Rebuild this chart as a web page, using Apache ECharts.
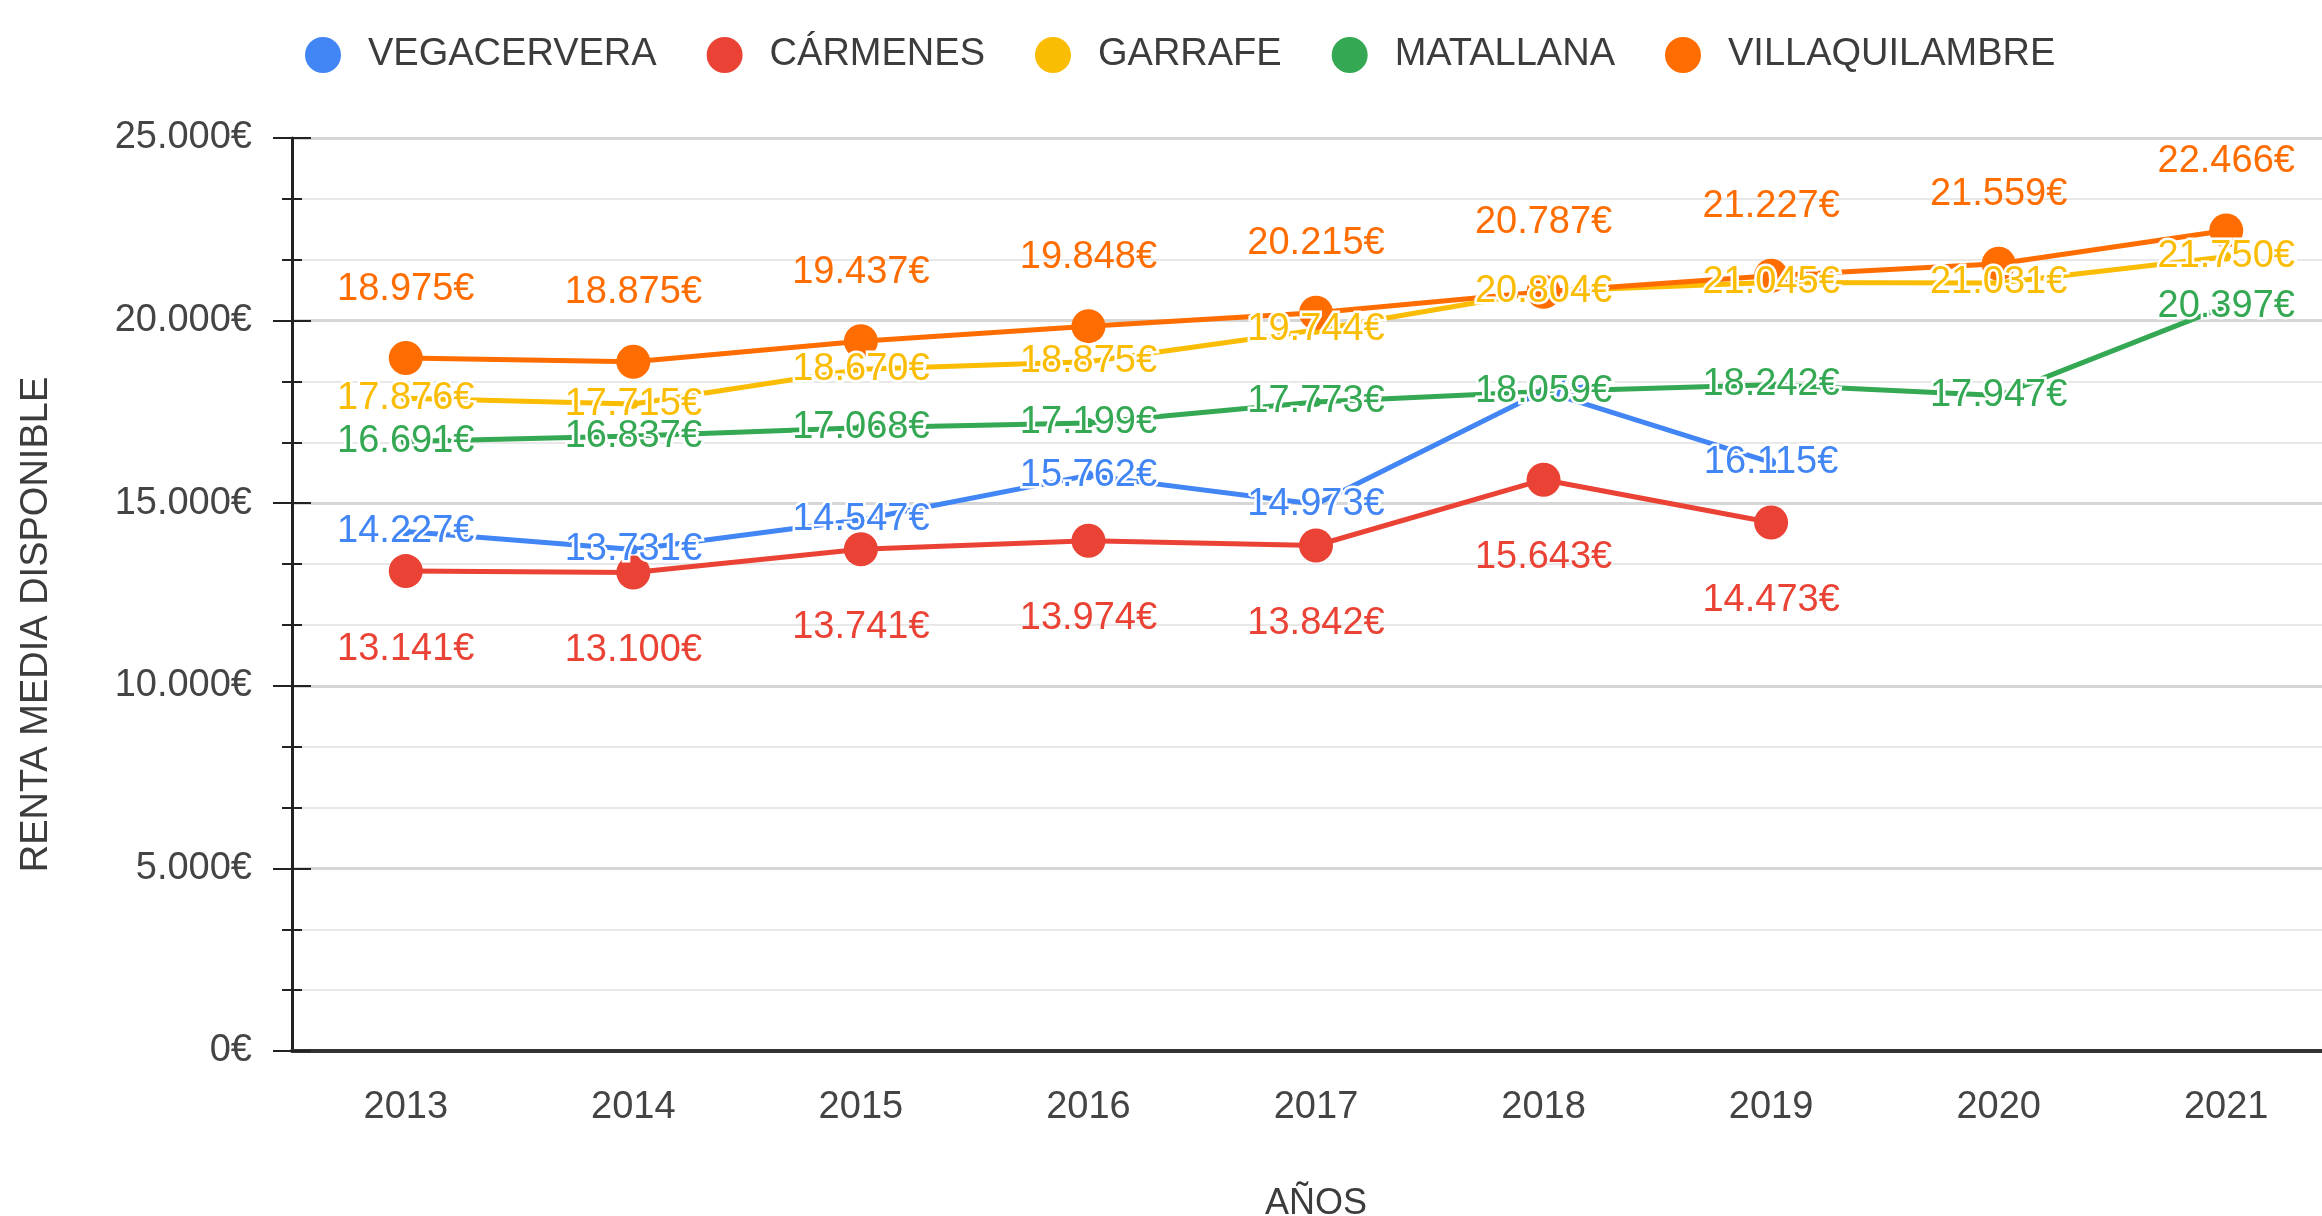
<!DOCTYPE html>
<html>
<head>
<meta charset="utf-8">
<script src="https://cdn.jsdelivr.net/npm/echarts@6/dist/echarts.min.js"></script>
<style>
  html, body { margin: 0; padding: 0; background: #fff; }
  #chart { width: 2322px; height: 1216px; }
</style>
</head>
<body>
<div id="chart"></div>
<script>
    var years = ['2013', '2014', '2015', '2016', '2017', '2018', '2019', '2020', '2021'];
    var vegacervera = [14227, 13731, 14547, 15762, 14973, 18073, 16115, null, null];
    var carmenes = [13141, 13100, 13741, 13974, 13842, 15643, 14473, null, null];
    var garrafe = [17876, 17715, 18670, 18875, 19744, 20804, 21045, 21031, 21750];
    var matallana = [16691, 16837, 17068, 17199, 17773, 18059, 18242, 17947, 20397];
    var villaquilambre = [18975, 18875, 19437, 19848, 20215, 20787, 21227, 21559, 22466];
    var yTicks = [0, 5000, 10000, 15000, 20000, 25000];

    var FONT = 'Liberation Sans';
    var chart = echarts.init(document.getElementById('chart'));

    // 18975 -> "18.975€"
    function euro(v) {
        return String(v).replace(/\B(?=(\d{3})+(?!\d))/g, '.') + '€';
    }

    function makeSeries(name, data, color, big, labelPos, dist) {
        return {
            name: name,
            type: 'line',
            data: data,
            symbol: 'circle',
            symbolSize: big ? 34 : 10,
            showSymbol: true,
            lineStyle: { width: 5, color: color },
            itemStyle: { color: color },
            label: {
                show: true,
                position: labelPos,
                distance: dist,
                color: color,
                fontFamily: FONT,
                fontSize: 38,
                textBorderColor: '#fff',
                textBorderWidth: big ? 0 : 5,
                formatter: function (p) { return euro(p.value); }
            },
            emphasis: { disabled: true }
        };
    }

    var options = {
        backgroundColor: '#fff',
        animation: false,
        legend: {
            left: 300,
            top: 31,
            icon: 'circle',
            itemWidth: 36,
            itemHeight: 36,
            itemGap: 50,
            textStyle: { fontFamily: FONT, fontSize: 38, color: '#3c3c3c', padding: [0, 0, 0, 22] },
            data: ['VEGACERVERA', 'CÁRMENES', 'GARRAFE', 'MATALLANA', 'VILLAQUILAMBRE']
        },
        grid: { left: 292, top: 138, width: 2048, height: 913, outerBoundsMode: 'none', containLabel: false },
        xAxis: [{
            type: 'category',
            data: years,
            boundaryGap: true,
            name: 'AÑOS',
            nameLocation: 'middle',
            nameGap: 135,
            nameTextStyle: { fontFamily: FONT, fontSize: 36, color: '#3c3c3c' },
            axisLine: { lineStyle: { color: '#333', width: 4 } },
            axisTick: { alignWithLabel: true, length: 20, lineStyle: { color: '#222', width: 2 } },
            axisLabel: { margin: 38, fontFamily: FONT, fontSize: 38, color: '#444' },
            splitLine: { show: false }
        }, {
            type: 'category',
            data: years,
            position: 'bottom',
            boundaryGap: true,
            axisLine: { show: false },
            axisTick: { inside: true, alignWithLabel: true, length: 19, lineStyle: { color: '#222', width: 2 } },
            axisLabel: { show: false },
            splitLine: { show: false }
        }],
        yAxis: [{
            type: 'value',
            min: yTicks[0],
            max: yTicks[yTicks.length - 1],
            interval: 5000,
            name: 'RENTA MEDIA DISPONIBLE',
            nameLocation: 'middle',
            nameGap: 236,
            nameTextStyle: { fontFamily: FONT, fontSize: 38, color: '#3c3c3c', padding: [0, 60, 0, 0] },
            axisLine: { show: true, lineStyle: { color: '#222', width: 3 } },
            axisTick: { show: true, length: 19, lineStyle: { color: '#222', width: 2 } },
            minorTick: { show: true, splitNumber: 3, length: 10, lineStyle: { color: '#222', width: 2 } },
            axisLabel: { margin: 40, fontFamily: FONT, fontSize: 38, color: '#444', formatter: euro },
            splitLine: { lineStyle: { color: '#d6d6d6', width: 3 } },
            minorSplitLine: { show: true, lineStyle: { color: '#e8e8e8', width: 2 } }
        }, {
            type: 'value',
            position: 'left',
            min: yTicks[0],
            max: yTicks[yTicks.length - 1],
            interval: 5000,
            axisLine: { show: false },
            axisTick: { show: true, inside: true, length: 19, lineStyle: { color: '#222', width: 2 } },
            minorTick: { show: true, splitNumber: 3, length: 10, lineStyle: { color: '#222', width: 2 } },
            axisLabel: { show: false },
            splitLine: { show: false }
        }],
        series: [
            makeSeries('VEGACERVERA', vegacervera, '#4285F4', false, 'inside', 0),
            makeSeries('CÁRMENES', carmenes, '#EA4335', true, 'bottom', 42),
            makeSeries('GARRAFE', garrafe, '#FBBC04', false, 'inside', 0),
            makeSeries('MATALLANA', matallana, '#34A853', false, 'inside', 0),
            makeSeries('VILLAQUILAMBRE', villaquilambre, '#FF6D01', true, 'top', 33)
        ]
    };

    chart.setOption(options);
</script>
</body>
</html>
